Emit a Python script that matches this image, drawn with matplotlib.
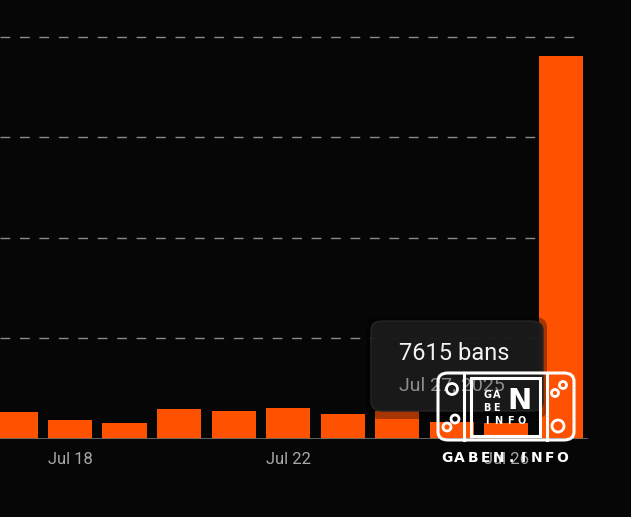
import matplotlib.pyplot as plt
from matplotlib.patches import FancyBboxPatch, Ellipse, Rectangle

# daily ban counts
days = ["Jul 17", "Jul 18", "Jul 19", "Jul 20", "Jul 21", "Jul 22",
        "Jul 23", "Jul 24", "Jul 25", "Jul 26", "Jul 27"]
bans = [536, 371, 326, 596, 556, 610, 504, 550, 332, 320, 7615]
shown_ticks = ["Jul 18", "Jul 22", "Jul 26"]
grid_values = [2000, 4000, 6000, 8000]

bg = "#060606"
orange = "#ff5200"

W, H = 631, 517
fig = plt.figure(figsize=(W / 100, H / 100), dpi=100, facecolor=bg)
ax = fig.add_axes([0, 78 / H, 588 / W, 1 - 78 / H])
ax.set_facecolor(bg)

x = list(range(len(days)))
ax.bar(x, bans, width=0.81, color=orange, zorder=2)

ax.set_xlim(-0.284, 10.5)
ax.set_ylim(0, 8736)

for v in grid_values:
    ax.plot([-0.284, 10.41], [v, v], color="#8a8a8a", lw=1,
            ls=(0, (7, 7)), zorder=1)
ax.axhline(0, color="#6a6a6a", lw=2, zorder=3)

ax.set_xticks([days.index(d) for d in shown_ticks])
ax.set_xticklabels(shown_ticks, color="#a8a8a8", fontsize=12, family="Roboto")
ax.tick_params(axis="x", length=0, pad=9)
ax.set_yticks([])
for s in ax.spines.values():
    s.set_visible(False)


def px(xp, yp):
    # pixel coords from top-left -> figure fraction
    return xp / W, 1 - yp / H


# tooltip
shadow = FancyBboxPatch(px(367, 419), 180 / W, 102 / H,
                        boxstyle="round,pad=0,rounding_size=0.02",
                        transform=fig.transFigure, fc="#000000", ec="none",
                        alpha=0.35, zorder=5)
fig.patches.append(shadow)
tip = FancyBboxPatch(px(371, 411), 172 / W, 90 / H,
                     boxstyle="round,pad=0,rounding_size=0.018",
                     transform=fig.transFigure, fc="#1b1b1b", ec="#262626",
                     lw=1, alpha=0.95, zorder=6)
fig.patches.append(tip)
fig.text(*px(399, 354), "7615 bans", color="#f2f2f2", fontsize=17,
         family="Roboto", va="center", ha="left", zorder=7)
fig.text(*px(399, 385), "Jul 27, 2025", color="#8c8c8c", fontsize=14,
         family="Roboto", va="center", ha="left", zorder=7)

# watermark logo
white = "#ffffff"
lw = 2.2
outer = FancyBboxPatch(px(438, 440), 136 / W, 67 / H,
                       boxstyle="round,pad=0,rounding_size=0.016",
                       transform=fig.transFigure, fc="none", ec=white,
                       lw=lw, zorder=8)
fig.patches.append(outer)
for xp in [464, 547]:
    fig.add_artist(plt.Line2D([xp / W, xp / W], [1 - 373 / H, 1 - 440 / H],
                              color=white, lw=lw, transform=fig.transFigure,
                              zorder=8))
fig.patches.append(Rectangle(px(471, 436), 69 / W, 58 / H, fc="none",
                             ec=white, lw=lw, transform=fig.transFigure,
                             zorder=8))
for (cx, cy, r) in [(452, 389, 5.5), (455, 419, 4), (447, 427, 4),
                    (563, 385, 3.5), (555, 393, 3.5), (558, 426, 6)]:
    e = Ellipse(px(cx, cy), 2 * r / W, 2 * r / H, fc="none", ec=white,
                lw=2, transform=fig.transFigure, zorder=8)
    fig.patches.append(e)

logo_font = "DejaVu Sans"
for word, yp, step in [("GA", 395, 9.5), ("BE", 408, 9.5),
                       ("INFO", 421, 11.5)]:
    for i, ch in enumerate(word):
        fig.text(*px(487 + i * step, yp), ch, color=white, fontsize=7,
                 family=logo_font, weight="bold", va="center", ha="center",
                 zorder=9)
fig.text(*px(519, 401), "N", color=white, fontsize=21, family=logo_font,
         weight="bold", va="center", ha="center", zorder=9)
for i, ch in enumerate("GABEN.INFO"):
    fig.text(*px(447 + i * 12.8, 458), ch, color=white, fontsize=10,
             family=logo_font, weight="bold", va="center", ha="center",
             zorder=9)

fig.savefig("out.png", dpi=100, facecolor=bg)
